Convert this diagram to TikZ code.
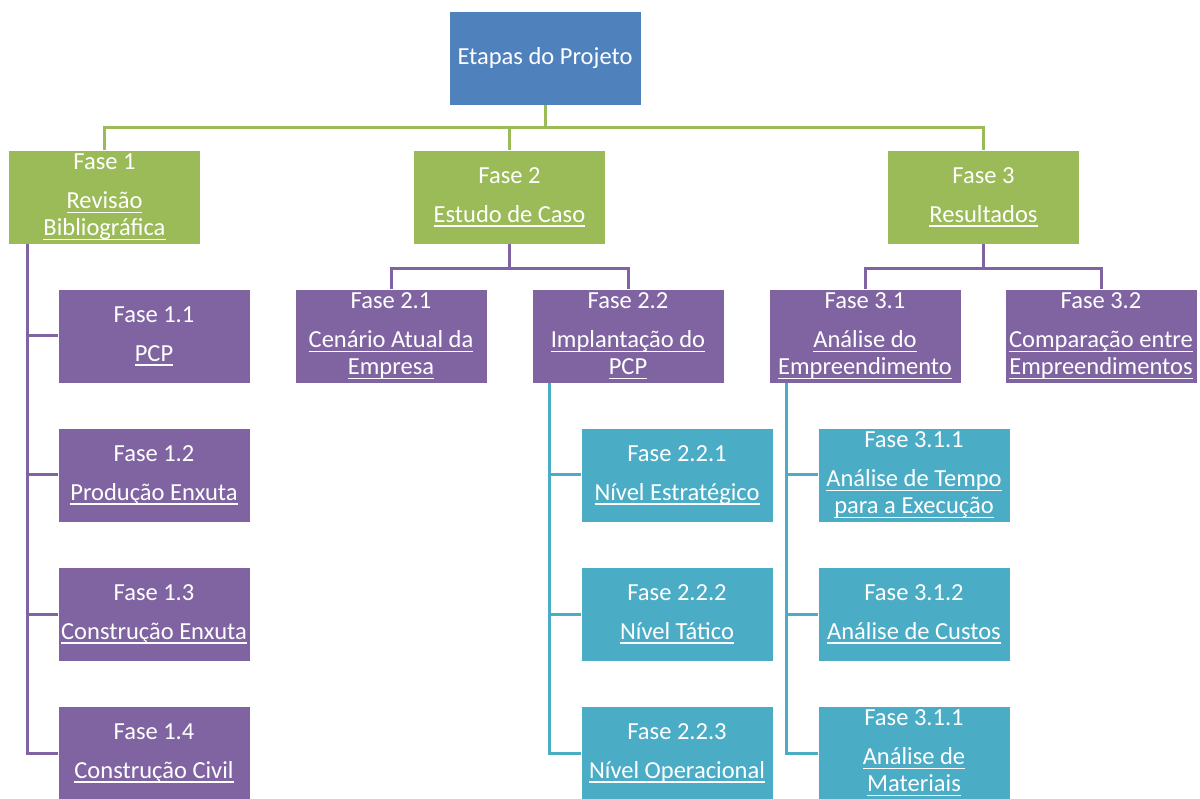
\documentclass[tikz,border=0pt]{standalone}
\usepackage{fontspec}
\setmainfont{Carlito}
\usepackage{tikz}
\usetikzlibrary{calc}
\definecolor{rootblue}{HTML}{4F81BD}
\definecolor{phasegreen}{HTML}{9BBB59}
\definecolor{stepviolet}{HTML}{8064A2}
\definecolor{taskcyan}{HTML}{4BACC6}
\newcommand{\undl}[1]{\setbox0\hbox{#1}\rlap{\rule[-4.4pt]{\wd0}{1.4pt}}\box0}

\tikzset{
  box/.style={draw=white, line width=0.6pt, text=white, align=center,
    inner sep=0pt, minimum width=192pt, minimum height=94pt,
    font=\fontsize{24.5}{27}\selectfont},
  rootbox/.style={box, fill=rootblue},
  phasebox/.style={box, fill=phasegreen},
  stepbox/.style={box, fill=stepviolet},
  taskbox/.style={box, fill=taskcyan},
  greenline/.style={phasegreen, line width=3pt},
  violetline/.style={stepviolet, line width=3pt},
  cyanline/.style={taskcyan, line width=3pt}
}

\begin{document}
\begin{tikzpicture}[x=1pt,y=-1pt]
  \useasboundingbox (0,0) rectangle (1200,799);

  % topo
  \node[rootbox] (root) at (545,58) {Etapas do Projeto};

  % fases
  \node[phasebox] (f1) at (104.5,197) {Fase 1\\[12pt]\undl{Revisão}\\\undl{Bibliográfica}};
  \node[phasebox] (f2) at (509.5,197) {Fase 2\\[12pt]\undl{Estudo de Caso}};
  \node[phasebox] (f3) at (983.5,197) {Fase 3\\[12pt]\undl{Resultados}};

  % fase 1
  \node[stepbox] (f11) at (154,336) {Fase 1.1\\[12pt]\undl{PCP}};
  \node[stepbox] (f12) at (154,475) {Fase 1.2\\[12pt]\undl{Produção Enxuta}};
  \node[stepbox] (f13) at (154,614) {Fase 1.3\\[12pt]\undl{Construção Enxuta}};
  \node[stepbox] (f14) at (154,753) {Fase 1.4\\[12pt]\undl{Construção Civil}};

  % fase 2
  \node[stepbox] (f21) at (391,336) {Fase 2.1\\[12pt]\undl{Cenário Atual da}\\\undl{Empresa}};
  \node[stepbox] (f22) at (628,336) {Fase 2.2\\[12pt]\undl{Implantação do}\\\undl{PCP}};
  \node[taskbox] (f221) at (677,475) {Fase 2.2.1\\[12pt]\undl{Nível Estratégico}};
  \node[taskbox] (f222) at (677,614) {Fase 2.2.2\\[12pt]\undl{Nível Tático}};
  \node[taskbox] (f223) at (677,753) {Fase 2.2.3\\[12pt]\undl{Nível Operacional}};

  % fase 3
  \node[stepbox] (f31) at (865,336) {Fase 3.1\\[12pt]\undl{Análise do}\\\undl{Empreendimento}};
  \node[stepbox] (f32) at (1101,336) {Fase 3.2\\[12pt]\undl{Comparação entre}\\\undl{Empreendimentos}};
  \node[taskbox] (f311) at (914,475) {Fase 3.1.1\\[12pt]\undl{Análise de Tempo}\\\undl{para a Execução}};
  \node[taskbox] (f312) at (914,614) {Fase 3.1.2\\[12pt]\undl{Análise de Custos}};
  \node[taskbox] (f313) at (914,753) {Fase 3.1.1\\[12pt]\undl{Análise de}\\\undl{Materiais}};

  % ligacoes
  \foreach \n in {f1,f2,f3}
    \draw[greenline] (root.south) -- ++(0,22) -| (\n.north);
  \foreach \n in {f21,f22}
    \draw[violetline] (f2.south) -- ++(0,24) -| (\n.north);
  \foreach \n in {f31,f32}
    \draw[violetline] (f3.south) -- ++(0,24) -| (\n.north);

  \draw[violetline] ($(f1.south west)+(19,0)$) |- (f14.west);
  \foreach \n in {f11,f12,f13}
    \draw[violetline] (\n.west) -- ++(-31,0);

  \draw[cyanline] ($(f22.south west)+(18,0)$) |- (f223.west);
  \foreach \n in {f221,f222}
    \draw[cyanline] (\n.west) -- ++(-31,0);

  \draw[cyanline] ($(f31.south west)+(18,0)$) |- (f313.west);
  \foreach \n in {f311,f312}
    \draw[cyanline] (\n.west) -- ++(-31,0);
\end{tikzpicture}
\end{document}
